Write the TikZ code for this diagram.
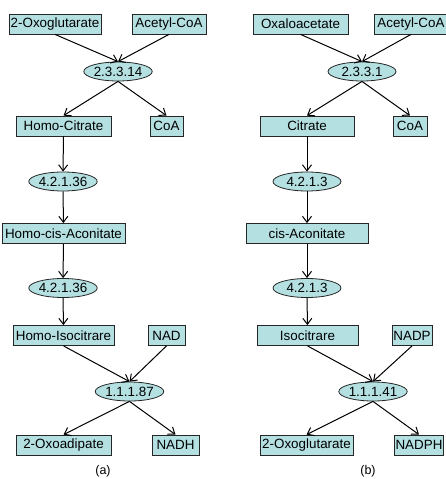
\documentclass[tikz,border=0pt]{standalone}
\usepackage{fontspec}
\setmainfont{Liberation Sans}
\usetikzlibrary{shapes.geometric,arrows,arrows.meta,positioning}
\definecolor{cmpfill}{RGB}{180,224,226}

\begin{document}
\begin{tikzpicture}[x=1pt,y=-1pt]
\tikzstyle{compound}=[rectangle, draw=black!85, fill=cmpfill, line width=0.8pt,
	inner sep=1pt, minimum height=20pt, font=\fontsize{13.4}{13.4}\selectfont
]
\tikzstyle{enzyme}=[ellipse, draw=black!85, fill=cmpfill, line width=0.8pt,
	inner sep=0pt, minimum width=68pt, minimum height=19pt, font=\fontsize{13.4}{13.4}\selectfont
]
\tikzstyle{react}=[-{Straight Barb[length=6pt,width=9pt]}, line width=1pt]
\useasboundingbox (0,0) rectangle (445,479);
% (a) lysine pathway
\node[compound,minimum width=92pt] (oxg) at (55,24) {2-Oxoglutarate};
\node[compound,minimum width=74pt] (acoa) at (169,24) {Acetyl-CoA};
\node[enzyme] (ea) at (118,71.5) {2.3.3.14};
\node[compound,minimum width=95pt] (hcit) at (63.5,126) {Homo-Citrate};
\node[compound,minimum width=33pt] (coa) at (166.5,126) {CoA};
\node[enzyme] (eb) at (63,181.5) {4.2.1.36};
\node[compound,minimum width=123pt] (hcis) at (63.5,233.5) {Homo-cis-Aconitate};
\node[enzyme] (ec) at (63,288) {4.2.1.36};
\node[compound,minimum width=101pt] (hiso) at (63.5,335.5) {Homo-Isocitrare};
\node[compound,minimum width=37pt] (nad) at (166.5,335.5) {NAD};
\node[enzyme,minimum width=67pt] (ed) at (129.5,391.5) {1.1.1.87};
\node[compound,minimum width=95pt] (oxad) at (63.5,445) {2-Oxoadipate};
\node[compound,minimum width=47pt] (nadh) at (175.5,445) {NADH};
\node[font=\fontsize{12.5}{12.5}\selectfont] (capa) at (103,471) {(a)};
% (b) citrate cycle
\node[compound,minimum width=95pt] (oxa) at (300.5,24) {Oxaloacetate};
\node[compound,minimum width=74pt] (acoab) at (411,24) {Acetyl-CoA};
\node[enzyme] (fa) at (362,71.5) {2.3.3.1};
\node[compound,minimum width=94pt] (cit) at (307,126) {Citrate};
\node[compound,minimum width=34pt] (coab) at (410,126) {CoA};
\node[enzyme] (fb) at (307,181.5) {4.2.1.3};
\node[compound,minimum width=122pt] (cis) at (307,233.5) {cis-Aconitate};
\node[enzyme] (fc) at (307,288) {4.2.1.3};
\node[compound,minimum width=101pt] (iso) at (307.5,335.5) {Isocitrare};
\node[compound,minimum width=40pt] (nadp) at (412,335.5) {NADP};
\node[enzyme] (fd) at (373,391.5) {1.1.1.41};
\node[compound,minimum width=93pt] (oxgb) at (306.5,445) {2-Oxoglutarate};
\node[compound,minimum width=48pt] (nadph) at (419,445) {NADPH};
\node[font=\fontsize{12.5}{12.5}\selectfont] (capb) at (368,471) {(b)};
% reactions (a)
\path[react] (oxg.south) edge (ea.north) ;
\path[react] (acoa.south) edge (ea.north) ;
\path[react] (ea.south) edge (hcit.north) ;
\path[react] (ea.south) edge (coa.north) ;
\path[react] (hcit) edge (eb) ;
\path[react] (eb) edge (hcis) ;
\path[react] (hcis) edge (ec) ;
\path[react] (ec) edge (hiso) ;
\path[react] (hiso.south) edge (ed.north) ;
\path[react] (nad.south) edge (ed.north) ;
\path[react] (ed.south) edge (oxad.north) ;
\path[react] (ed.south) edge (nadh.north) ;
% reactions (b)
\path[react] (oxa.south) edge (fa.north) ;
\path[react] (acoab.south) edge (fa.north) ;
\path[react] (fa.south) edge (cit.north) ;
\path[react] (fa.south) edge (coab.north) ;
\path[react] (cit) edge (fb) ;
\path[react] (fb) edge (cis) ;
\path[react] (cis) edge (fc) ;
\path[react] (fc) edge (iso) ;
\path[react] (iso.south) edge (fd.north) ;
\path[react] (nadp.south) edge (fd.north) ;
\path[react] (fd.south) edge (oxgb.north) ;
\path[react] (fd.south) edge (nadph.north) ;

\end{tikzpicture}
\end{document}
